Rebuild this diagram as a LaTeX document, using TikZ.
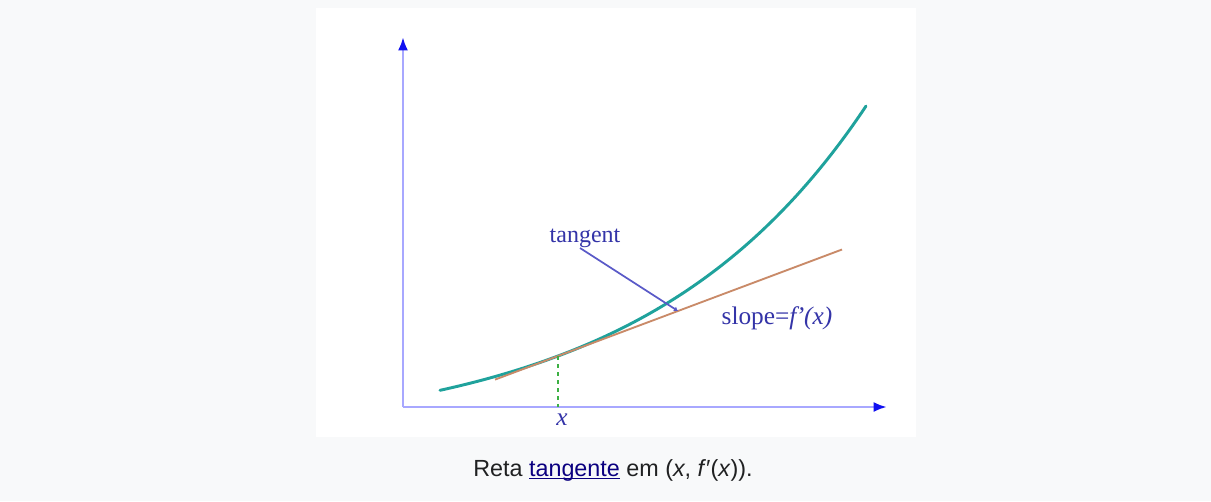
\documentclass[tikz,border=0pt]{standalone}
\usepackage{fontspec}
\setmainfont{Liberation Serif}
\newfontfamily\captionfont{Liberation Sans}
\usetikzlibrary{arrows.meta,positioning}
\definecolor{PageGray}{HTML}{F8F9FA}
\definecolor{AxisLight}{HTML}{A8A8FF}
\definecolor{AxisTip}{HTML}{1010F0}
\definecolor{Teal}{HTML}{1FA29C}
\definecolor{Brown}{HTML}{C98A68}
\definecolor{Leader}{HTML}{5A5AC8}
\definecolor{Dash}{HTML}{3CB043}
\definecolor{LabelBlue}{HTML}{3434A8}
\definecolor{CapText}{HTML}{202122}
\definecolor{LinkBlue}{HTML}{0B0080}

\begin{document}
\begin{tikzpicture}[
  x=0.75pt,y=-0.75pt,
  axis/.style={draw=AxisLight,line width=2.2pt,-{Latex[length=10pt,width=7.5pt,color=AxisTip]}},
  graph/.style={draw=Teal,line width=2.2pt,line cap=round},
  tangline/.style={draw=Brown,line width=1.4pt},
  leader/.style={draw=Leader,line width=1.3pt,-{Latex[length=3pt,width=4pt]}},
  guide/.style={draw=Dash,line width=0.8pt,dashed},
  lbl/.style={text=LabelBlue,font=\fontsize{18}{20}\selectfont,inner sep=1pt}
]
% page and white panel
\fill[PageGray] (0,0) rectangle (1211,501);
\fill[white] (316,8) rectangle (916,437);

% axes
\coordinate (O) at (403,407);
\coordinate (xend) at (887,407);
\coordinate (yend) at (403,37);
\draw[axis] (O) -- (xend);
\draw[axis] (O) -- (yend);

% the curve and its tangent
\draw[graph] plot[domain=440:866,samples=80,smooth]
  (\x,{439.3-83.3*exp(0.0045*(\x-558))});
\coordinate (P) at (558,356);
\coordinate (tA) at (495,379.6);
\coordinate (tB) at (842,249.5);
\draw[tangline] (tA) -- (tB);
\coordinate (Px) at (558,407);
\draw[guide] (P) -- (Px);

% labels
\node[lbl,font=\fontsize{19}{20}\selectfont\itshape] (xlbl) at (562,420) {x};
\node[lbl] (tanlbl) at (585,238) {tangent};
\coordinate (tantip) at (678,311);
\draw[leader] (580,248) -- (tantip);
\node[lbl,font=\fontsize{19}{20}\selectfont] (slopelbl) at (777,318) {slope=\textit{f\kern-0.5pt'(x)}};

% caption
\node[text=CapText,font=\captionfont\fontsize{17.5}{20}\selectfont] (cap) at (613,470.5)
  {Reta \textcolor{LinkBlue}{\underline{\smash{tangente}}\vphantom{g}} em (\textit{x}, \textit{f}′(\textit{x}))\kern0pt.};
\end{tikzpicture}
\end{document}
